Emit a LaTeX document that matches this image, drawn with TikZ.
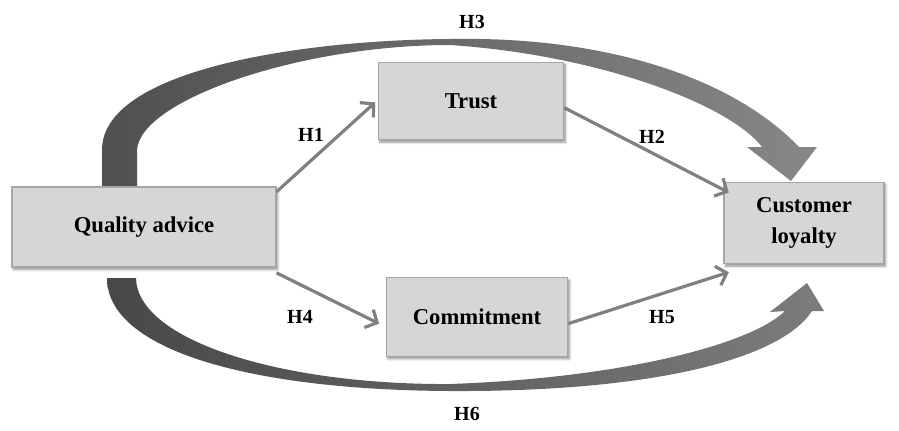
\documentclass[tikz,border=0pt]{standalone}
\usepackage{fontspec}
\setmainfont{Liberation Serif}
\usetikzlibrary{arrows.meta,shadows.blur}
\definecolor{boxfill}{RGB}{214,214,214}
\definecolor{boxline}{RGB}{165,165,165}
\definecolor{linkgray}{RGB}{128,128,128}
\definecolor{bigdark}{RGB}{80,80,80}
\definecolor{biglight}{RGB}{135,135,135}

\begin{document}
\begin{tikzpicture}[x=0.75pt,y=-0.75pt,
  box/.style={draw=boxline,fill=boxfill,line width=0.8pt,font=\fontsize{17}{23}\selectfont\bfseries,
    align=center,blur shadow={shadow xshift=1.2pt,shadow yshift=-1.8pt,shadow blur steps=6,shadow opacity=45}},
  link/.style={draw=linkgray,line width=2.4pt,-{Straight Barb[length=7pt,width=15pt]}},
  hyp/.style={font=\fontsize{15}{17}\selectfont\bfseries}]
\useasboundingbox (0,0) rectangle (899,430);
% big curved arrows first, behind the boxes
\shade[left color=bigdark,right color=biglight] (102,186) -- (102,150)
  .. controls (102,70) and (300,40) .. (450,39)
  .. controls (600,36) and (730,75) .. (799,147)
  -- (817,147) -- (791,181) -- (747,147) -- (762,147)
  .. controls (730,105) and (600,55) .. (450,45)
  .. controls (300,45) and (140,100) .. (137,150) -- (137,186) -- cycle;
\shade[left color=bigdark!90!black,right color=bigdark!75!white] (107,278)
  .. controls (107,350) and (250,390) .. (450,391)
  .. controls (650,392) and (780,360) .. (812,311)
  -- (824,311) -- (807,283) -- (770,312) -- (785,311)
  .. controls (750,345) and (620,378) .. (450,384)
  .. controls (280,385) and (137,340) .. (136,278) -- cycle;
% boxes
\draw (144,227) node[box,minimum width=198pt,minimum height=60pt](qa) {Quality advice};
\draw (471,101) node[box,minimum width=139pt,minimum height=58pt](trust) {Trust};
\draw (477,317) node[box,minimum width=136pt,minimum height=59pt](commit) {Commitment};
\draw (804,223) node[box,minimum width=120pt,minimum height=61pt](loyal) {Customer\\loyalty};
% straight links
\draw[link] ([yshift=-4pt]qa.north east) -- ([shift={(-2pt,-1pt)}]trust.west);
\draw[link] ([yshift=-5pt]trust.east) -- ([shift={(4pt,-8pt)}]loyal.north west);
\draw[link] ([yshift=-4pt]qa.south east) -- ([shift={(-5pt,-5pt)}]commit.west);
\draw[link] ([yshift=-5pt]commit.east) -- ([shift={(4pt,-6pt)}]loyal.south west);
% labels
\draw (311,135) node[hyp](h1) {H1};
\draw (652,137) node[hyp](h2) {H2};
\draw (472,22) node[hyp](h3) {H3};
\draw (300,317) node[hyp](h4) {H4};
\draw (662,317) node[hyp](h5) {H5};
\draw (467,414) node[hyp](h6) {H6};
\end{tikzpicture}
\end{document}
